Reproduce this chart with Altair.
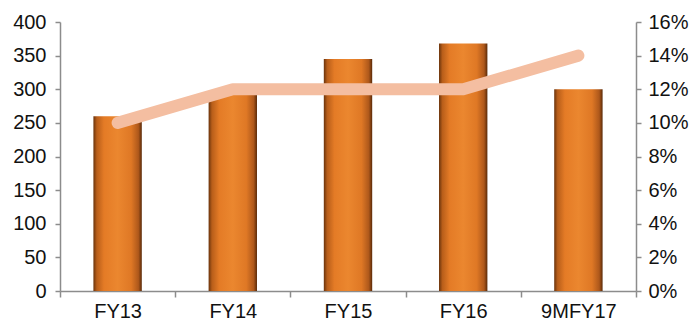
import altair as alt
import pandas as pd

categories = ["FY13", "FY14", "FY15", "FY16", "9MFY17"]
bar_values = [260, 292, 345, 368, 300]
pct_values = [0.10, 0.12, 0.12, 0.12, 0.14]

df = pd.DataFrame({"cat": categories, "val": bar_values, "pct": pct_values})

FONT = "Liberation Sans"
GRAY = "#8c8c8c"
FS = 20

gradient = alt.Gradient(
    gradient="linear",
    x1=0, x2=1, y1=0, y2=0,
    stops=[
        alt.GradientStop(offset=0.0, color="#6a330b"),
        alt.GradientStop(offset=0.07, color="#b85e1a"),
        alt.GradientStop(offset=0.22, color="#e47b26"),
        alt.GradientStop(offset=0.5, color="#eb872f"),
        alt.GradientStop(offset=0.78, color="#df7825"),
        alt.GradientStop(offset=0.93, color="#ae581b"),
        alt.GradientStop(offset=1.0, color="#5a2a08"),
    ],
)

x_enc = alt.X(
    "cat:N",
    sort=categories,
    scale=alt.Scale(paddingInner=0, paddingOuter=0),
    axis=alt.Axis(
        title=None, labelAngle=0, tickBand="extent", tickSize=6,
        labelPadding=4, labelFontSize=FS, labelFont=FONT, labelColor="#111",
        domainColor=GRAY, tickColor=GRAY, domainWidth=1.5, tickWidth=1.5,
    ),
)

bars = alt.Chart(df).mark_bar(
    fill=gradient, width=alt.RelativeBandSize(0.42)
).encode(
    x=x_enc,
    y=alt.Y(
        "val:Q",
        scale=alt.Scale(domain=[0, 400]),
        axis=alt.Axis(
            title=None, values=list(range(0, 401, 50)), grid=False,
            tickSize=5, labelPadding=9, labelFontSize=FS, labelFont=FONT,
            labelColor="#111", domainColor=GRAY, tickColor=GRAY,
            domainWidth=1.5, tickWidth=1.5,
        ),
    ),
)

line = alt.Chart(df).mark_line(
    color="#f4bea1", strokeWidth=12, strokeCap="round", strokeJoin="round"
).encode(
    x=alt.X("cat:N", sort=categories),
    y=alt.Y(
        "pct:Q",
        scale=alt.Scale(domain=[0, 0.16]),
        axis=alt.Axis(
            title=None, orient="right", format=".0%",
            values=[0, 0.02, 0.04, 0.06, 0.08, 0.10, 0.12, 0.14, 0.16],
            grid=False, tickSize=5, labelPadding=7, labelFontSize=FS,
            labelFont=FONT, labelColor="#111", domainColor=GRAY,
            tickColor=GRAY, domainWidth=1.5, tickWidth=1.5,
        ),
    ),
)

chart = alt.layer(bars, line).resolve_scale(y="independent").properties(
    width=576, height=269,
    autosize=alt.AutoSizeParams(type="none"),
    padding={"left": 52, "top": 14, "right": 56, "bottom": 30},
).configure_view(stroke=None)

chart.save("out.html", embed_options={"renderer": "svg", "actions": False})
